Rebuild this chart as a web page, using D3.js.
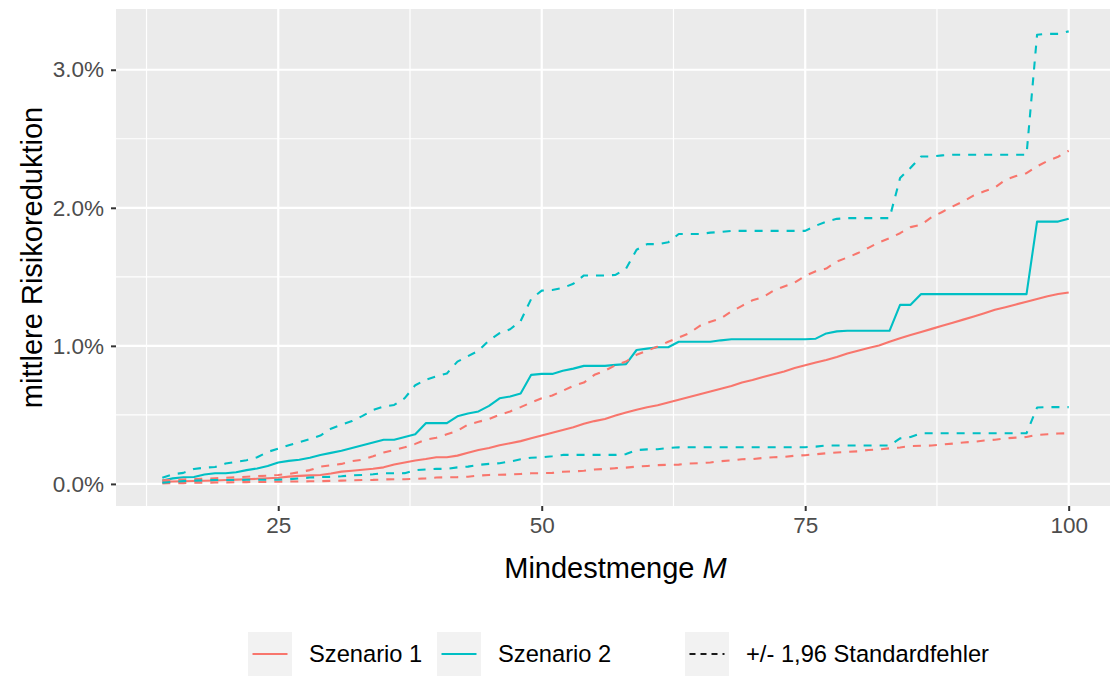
<!DOCTYPE html>
<html>
<head>
<meta charset="utf-8">
<script src="https://cdn.jsdelivr.net/npm/d3@7"></script>
<style>
  html, body { margin: 0; padding: 0; background: #ffffff; }
  svg { display: block; font-family: "Liberation Sans", Arial, sans-serif; }
</style>
</head>
<body>
<svg id="chart" width="1110" height="678"></svg>
<script>
// Mindestmenge M
const mValues = [14,15,16,17,18,19,20,21,22,23,24,25,26,27,28,29,30,31,32,33,34,35,36,37,38,39,40,41,42,43,44,45,46,47,48,49,50,51,52,53,54,55,56,57,58,59,60,61,62,63,64,65,66,67,68,69,70,71,72,73,74,75,76,77,78,79,80,81,82,83,84,85,86,87,88,89,90,91,92,93,94,95,96,97,98,99,100];

// mittlere Risikoreduktion in %, Szenario 1
const s1Mean = [0.015,0.017,0.019,0.021,0.023,0.025,0.028,0.031,0.034,0.037,
  0.041,0.045,0.053,0.058,0.062,0.065,0.075,0.089,0.095,0.102,
  0.110,0.120,0.140,0.155,0.169,0.180,0.193,0.193,0.205,0.225,
  0.245,0.260,0.280,0.295,0.310,0.330,0.350,0.370,0.390,0.410,
  0.435,0.455,0.470,0.495,0.517,0.537,0.555,0.570,0.590,0.610,
  0.630,0.650,0.670,0.690,0.710,0.735,0.752,0.775,0.795,0.815,
  0.840,0.860,0.880,0.898,0.920,0.945,0.965,0.985,1.002,1.030,
  1.055,1.078,1.100,1.123,1.145,1.168,1.190,1.213,1.237,1.261,
  1.280,1.300,1.320,1.340,1.360,1.375,1.386];
const s1Lower = [0.004,0.005,0.006,0.008,0.009,0.010,0.011,0.012,0.013,0.014,
  0.015,0.016,0.017,0.018,0.019,0.020,0.022,0.024,0.026,0.028,
  0.029,0.032,0.034,0.034,0.036,0.040,0.046,0.048,0.049,0.052,
  0.060,0.065,0.066,0.068,0.072,0.077,0.078,0.080,0.088,0.091,
  0.095,0.104,0.108,0.114,0.118,0.125,0.130,0.136,0.138,0.140,
  0.148,0.150,0.155,0.165,0.170,0.179,0.180,0.188,0.193,0.196,
  0.204,0.208,0.215,0.222,0.228,0.232,0.236,0.246,0.250,0.258,
  0.264,0.274,0.276,0.278,0.285,0.292,0.300,0.305,0.314,0.320,
  0.330,0.335,0.340,0.355,0.360,0.365,0.367];
const s1Upper = [0.026,0.029,0.032,0.035,0.038,0.041,0.044,0.048,0.052,0.056,
  0.060,0.065,0.072,0.085,0.100,0.125,0.135,0.145,0.165,0.175,
  0.200,0.227,0.246,0.265,0.290,0.320,0.335,0.360,0.384,0.430,
  0.450,0.470,0.500,0.525,0.556,0.590,0.620,0.640,0.675,0.710,
  0.734,0.790,0.820,0.860,0.886,0.935,0.965,0.995,1.030,1.060,
  1.092,1.145,1.175,1.200,1.249,1.290,1.330,1.353,1.400,1.430,
  1.459,1.507,1.540,1.560,1.611,1.640,1.672,1.710,1.750,1.780,
  1.816,1.860,1.877,1.932,1.970,2.010,2.046,2.090,2.120,2.147,
  2.203,2.230,2.251,2.300,2.340,2.370,2.413];

// mittlere Risikoreduktion in %, Szenario 2
const s2Mean = [0.025,0.040,0.048,0.050,0.068,0.077,0.077,0.085,0.100,0.112,
  0.130,0.155,0.167,0.175,0.190,0.210,0.225,0.240,0.260,0.280,
  0.300,0.320,0.320,0.340,0.360,0.440,0.440,0.440,0.490,0.510,
  0.525,0.565,0.620,0.633,0.655,0.790,0.797,0.797,0.820,0.835,
  0.855,0.855,0.855,0.862,0.868,0.970,0.980,0.990,0.990,1.030,
  1.030,1.030,1.030,1.040,1.048,1.048,1.048,1.048,1.048,1.048,
  1.048,1.048,1.052,1.090,1.105,1.109,1.109,1.109,1.109,1.109,
  1.297,1.297,1.375,1.375,1.375,1.375,1.375,1.375,1.375,1.375,
  1.375,1.375,1.375,1.900,1.900,1.900,1.920];
const s2Lower = [0.008,0.015,0.020,0.024,0.026,0.028,0.028,0.029,0.030,0.030,
  0.030,0.031,0.034,0.040,0.046,0.050,0.051,0.055,0.062,0.065,
  0.070,0.077,0.077,0.078,0.100,0.105,0.109,0.109,0.120,0.125,
  0.138,0.145,0.150,0.162,0.178,0.190,0.193,0.200,0.210,0.210,
  0.210,0.210,0.210,0.210,0.216,0.245,0.250,0.251,0.260,0.265,
  0.266,0.266,0.266,0.266,0.266,0.266,0.266,0.266,0.266,0.266,
  0.266,0.266,0.270,0.278,0.278,0.278,0.278,0.278,0.278,0.278,
  0.330,0.340,0.367,0.367,0.367,0.367,0.367,0.367,0.367,0.367,
  0.367,0.367,0.367,0.553,0.556,0.556,0.556];
const s2Upper = [0.045,0.070,0.080,0.108,0.118,0.122,0.148,0.160,0.172,0.193,
  0.232,0.255,0.280,0.302,0.325,0.350,0.400,0.430,0.455,0.493,
  0.535,0.560,0.572,0.621,0.715,0.755,0.780,0.800,0.886,0.925,
  0.965,1.040,1.092,1.120,1.180,1.340,1.400,1.405,1.420,1.450,
  1.510,1.510,1.510,1.514,1.560,1.696,1.737,1.737,1.750,1.810,
  1.810,1.810,1.820,1.825,1.833,1.833,1.833,1.833,1.833,1.833,
  1.833,1.833,1.870,1.900,1.920,1.925,1.925,1.925,1.925,1.925,
  2.215,2.290,2.372,2.372,2.380,2.384,2.384,2.384,2.384,2.384,
  2.384,2.384,2.384,3.254,3.260,3.260,3.278];

const xTicks = [25, 50, 75, 100];
const xMinor = [12.5, 37.5, 62.5, 87.5];
const yTicks = [0, 1, 2, 3];
const yTickLabels = ["0.0%", "1.0%", "2.0%", "3.0%"];
const yMinor = [0.5, 1.5, 2.5];

const seriesNames = ["Szenario 1", "Szenario 2"];
const bandLabel = "+/- 1,96 Standardfehler";
const xTitle = "Mindestmenge ";
const xTitleItalic = "M";
const yTitle = "mittlere Risikoreduktion";

const colors = { "Szenario 1": "#F8766D", "Szenario 2": "#00BFC4" };

const svg = d3.select("#chart");
const W = 1110, H = 678;
const panel = { left: 116, top: 9, right: 1116, bottom: 506 };

const x = d3.scaleLinear().domain([9.7, 104.3]).range([117, 1114]);
const y = d3.scaleLinear().domain([-0.16, 3.44]).range([506, 9]);

svg.append("rect").attr("width", W).attr("height", H).attr("fill", "#ffffff");

svg.append("defs").append("clipPath").attr("id", "panelClip")
  .append("rect")
  .attr("x", panel.left).attr("y", panel.top)
  .attr("width", panel.right - panel.left).attr("height", panel.bottom - panel.top);

svg.append("rect")
  .attr("x", panel.left).attr("y", panel.top)
  .attr("width", panel.right - panel.left).attr("height", panel.bottom - panel.top)
  .attr("fill", "#EBEBEB");

const grid = svg.append("g").attr("clip-path", "url(#panelClip)");
grid.selectAll(".ymin").data(yMinor).join("line")
  .attr("x1", panel.left).attr("x2", panel.right)
  .attr("y1", d => y(d)).attr("y2", d => y(d))
  .attr("stroke", "#ffffff").attr("stroke-width", 1.2);
grid.selectAll(".xmin").data(xMinor).join("line")
  .attr("y1", panel.top).attr("y2", panel.bottom)
  .attr("x1", d => x(d)).attr("x2", d => x(d))
  .attr("stroke", "#ffffff").attr("stroke-width", 1.2);
grid.selectAll(".ymaj").data(yTicks).join("line")
  .attr("x1", panel.left).attr("x2", panel.right)
  .attr("y1", d => y(d)).attr("y2", d => y(d))
  .attr("stroke", "#ffffff").attr("stroke-width", 2.2);
grid.selectAll(".xmaj").data(xTicks).join("line")
  .attr("y1", panel.top).attr("y2", panel.bottom)
  .attr("x1", d => x(d)).attr("x2", d => x(d))
  .attr("stroke", "#ffffff").attr("stroke-width", 2.2);

// mean lines (solid) and +/- 1.96 SE bounds (dashed)
const series = [
  { name: "Szenario 1", kind: "mean", values: s1Mean },
  { name: "Szenario 2", kind: "mean", values: s2Mean },
  { name: "Szenario 1", kind: "band", values: s1Lower },
  { name: "Szenario 1", kind: "band", values: s1Upper },
  { name: "Szenario 2", kind: "band", values: s2Lower },
  { name: "Szenario 2", kind: "band", values: s2Upper }
];
const line = d3.line().x(d => x(d[0])).y(d => y(d[1]));
const lines = svg.append("g").attr("clip-path", "url(#panelClip)");
series.forEach(s => {
  lines.append("path")
    .datum(mValues.map((m, i) => [m, s.values[i]]))
    .attr("d", line)
    .attr("fill", "none")
    .attr("stroke", colors[s.name])
    .attr("stroke-width", 2.1)
    .attr("stroke-linejoin", "round")
    .attr("stroke-dasharray", s.kind === "band" ? "8,8" : null);
});

// axes
const xAxis = svg.append("g")
  .attr("transform", `translate(0,${panel.bottom})`)
  .call(d3.axisBottom(x).tickValues(xTicks).tickSize(5).tickPadding(6).tickFormat(d3.format("d")));
const yAxis = svg.append("g")
  .attr("transform", `translate(${panel.left},0)`)
  .call(d3.axisLeft(y).tickValues(yTicks).tickSize(5).tickPadding(7).tickFormat((d, i) => yTickLabels[i]));
[xAxis, yAxis].forEach(a => {
  a.select(".domain").remove();
  a.selectAll(".tick line").attr("stroke", "#333333").attr("stroke-width", 2);
  a.selectAll(".tick text").attr("fill", "#4D4D4D").style("font-size", "22.5px")
    .style("font-family", "'Liberation Sans', Arial, sans-serif");
});

// axis titles
const xt = svg.append("text")
  .attr("x", (117 + 1114) / 2).attr("y", 578)
  .attr("text-anchor", "middle")
  .style("font-size", "29px").attr("fill", "#000");
xt.append("tspan").text(xTitle);
xt.append("tspan").attr("font-style", "italic").text(xTitleItalic);

svg.append("text")
  .attr("transform", `translate(42,${(panel.top + panel.bottom) / 2}) rotate(-90)`)
  .attr("text-anchor", "middle")
  .style("font-size", "29px").attr("fill", "#000")
  .text(yTitle);

// legend
const legendItems = [
  { label: seriesNames[0], color: colors["Szenario 1"], dash: null, kx: 248 },
  { label: seriesNames[1], color: colors["Szenario 2"], dash: null, kx: 437 },
  { label: bandLabel, color: "#1a1a1a", dash: "6,5", kx: 685 }
];
const keySize = 44, keyTop = 632;
const lg = svg.append("g");
legendItems.forEach(it => {
  lg.append("rect").attr("x", it.kx).attr("y", keyTop)
    .attr("width", keySize).attr("height", keySize).attr("fill", "#F2F2F2");
  lg.append("line")
    .attr("x1", it.kx + 4.5).attr("x2", it.kx + keySize - 4.5)
    .attr("y1", keyTop + keySize / 2).attr("y2", keyTop + keySize / 2)
    .attr("stroke", it.color).attr("stroke-width", 2)
    .attr("stroke-dasharray", it.dash);
  lg.append("text")
    .attr("x", it.kx + keySize + 17).attr("y", keyTop + keySize / 2 + 8)
    .style("font-size", "23.7px").attr("fill", "#000")
    .text(it.label);
});
</script>
</body>
</html>
